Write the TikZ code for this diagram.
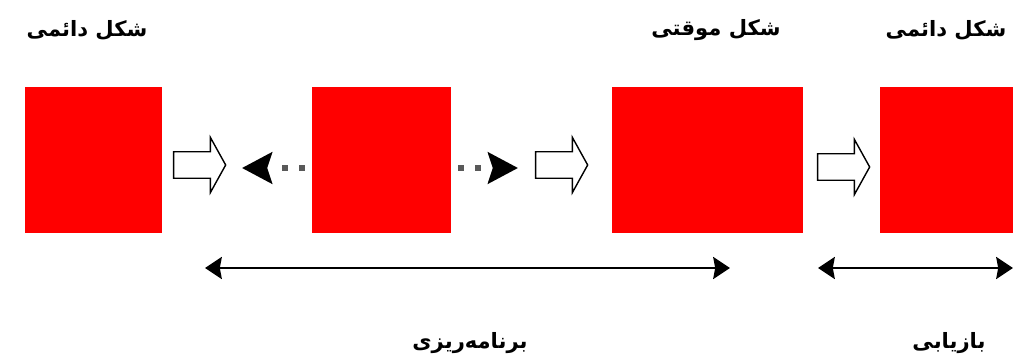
\documentclass[tikz,border=0pt]{standalone}
\usepackage{fontspec}
\usepackage{tikz}
\usetikzlibrary{arrows.meta,positioning,shapes.arrows}
\TeXXeTstate=1
\newfontfamily\arabicfont[Script=Arabic]{DejaVu Sans}
\definecolor{BoxRed}{HTML}{FF0000}
\begin{document}
\begin{tikzpicture}[x=0.025cm,y=-0.025cm,
    sq/.style={fill=BoxRed,draw=none,minimum height=3.65cm,inner sep=0pt},
    lbl/.style={font=\arabicfont\bfseries\fontsize{15}{18}\selectfont},
    harr/.style={single arrow,draw=black,fill=white,line width=1pt,inner xsep=0pt,
      inner ysep=0.3125cm,minimum height=1.3cm,minimum width=1.3cm,
      single arrow head extend=0.36cm,single arrow tip angle=122},
    dotarr/.style={line width=4pt,dash pattern=on 4.3pt off 7.8pt on 4.3pt off 30pt,
      dash phase=41.4pt,draw=black!65,
      -{Stealth[length=0.75cm,width=0.78cm,inset=0.12cm,black]}},
    span/.style={line width=1.6pt,{Stealth[length=0.42cm,width=0.55cm,inset=0.05cm]}-{Stealth[length=0.42cm,width=0.55cm,inset=0.05cm]}}]
  \useasboundingbox (0,0) rectangle (1013,360);
  \node[sq,minimum width=3.425cm] (P1) at (93.5,160) {};
  \node[sq,minimum width=3.475cm] (M) at (381.5,160) {};
  \node[sq,minimum width=4.775cm] (T) at (707.5,160) {};
  \node[sq,minimum width=3.325cm] (P2) at (946.5,160) {};
  \node[lbl] (L1) at (87,30) {\beginR شکل دائمی\endR};
  \node[lbl] (L2) at (716,30) {\beginR شکل موقتی\endR};
  \node[lbl] (L3) at (946,30) {\beginR شکل دائمی\endR};
  \node[harr] (A1) at (196,165) {};
  \node[harr] (A2) at (558,165) {};
  \node[harr] (A3) at (840,167) {};
  \coordinate (lt) at (242,168);
  \coordinate (rt) at (518,168);
  \draw[dotarr] (M.west |- lt) -- (lt);
  \draw[dotarr] (M.east |- rt) -- (rt);
  \coordinate (s1) at (205,268);
  \coordinate (s2) at (730,268);
  \coordinate (s3) at (818,268);
  \coordinate (s4) at (1013,268);
  \draw[span] (s1) -- (s2);
  \draw[span] (s3) -- (s4);
  \node[lbl] (B1) at (470,343) {\beginR برنامه‌ریزی\endR};
  \node[lbl] (B2) at (949,343) {\beginR بازیابی\endR};
\end{tikzpicture}
\end{document}
